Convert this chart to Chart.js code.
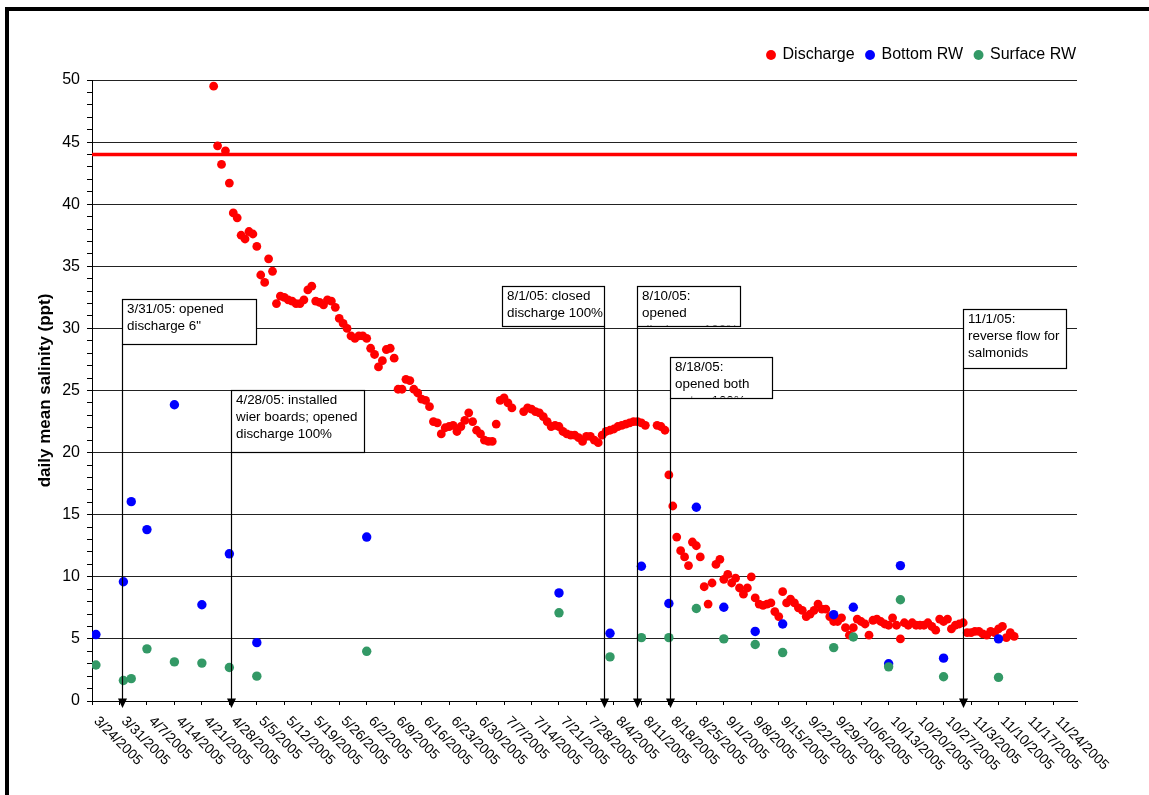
<!DOCTYPE html>
<html>
<head>
<meta charset="utf-8">
<script src="https://cdn.jsdelivr.net/npm/chart.js@4.4.1/dist/chart.umd.min.js"></script>
<style>
  html, body { margin: 0; padding: 0; background: #fff; overflow: hidden; }
  #frame { position: absolute; left: 5px; top: 7px; width: 1200px; height: 900px; border: 4px solid #000; }
  #myChart { position: absolute; left: 0; top: 0; }
</style>
</head>
<body>
<div id="frame"></div>
<canvas id="myChart" width="1149" height="795"></canvas>
<script>
// x axis runs from 3/24/2005 to 11/30/2005, weekly ticks
const axisStart = "3/24/2005";
const axisEnd = "11/30/2005";

// daily discharge salinity, one value per day starting 4/24/2005 (null = no reading)
const dischargeStart = "4/24/2005";
const dischargeValues = [
  49.5, 44.7, 43.2, 44.3, 41.7, 39.3, 38.9, 37.5, 37.2, 37.8,
  37.6, 36.6, 34.3, 33.7, 35.6, 34.6, 32.0, 32.6, 32.5, 32.3,
  32.2, 32.0, 32.0, 32.3, 33.1, 33.4, 32.2, 32.1, 31.9, 32.3,
  32.2, 31.7, 30.8, 30.4, 30.0, 29.4, 29.2, 29.4, 29.4, 29.2,
  28.4, 27.9, 26.9, 27.4, 28.3, 28.4, 27.6, 25.1, 25.1, 25.9,
  25.8, 25.1, 24.8, 24.3, 24.2, 23.7, 22.5, 22.4, 21.5, 22.0,
  22.1, 22.2, 21.7, 22.1, 22.6, 23.2, 22.5, 21.8, 21.5, 21.0,
  20.9, 20.9, 22.3, 24.2, 24.4, 24.0, 23.6, null, null, 23.3,
  23.6, 23.5, 23.3, 23.2, 22.9, 22.5, 22.1, 22.2, 22.1, 21.7,
  21.5, 21.4, 21.4, 21.2, 20.9, 21.3, 21.3, 21.0, 20.8, 21.4,
  21.7, 21.8, 21.9, 22.1, 22.2, 22.3, 22.4, 22.5, 22.5, 22.4,
  22.2, null, null, 22.2, 22.1, 21.8, 18.2, 15.7, 13.2, 12.1,
  11.6, 10.9, 12.8, 12.5, 11.6, 9.2, 7.8, 9.5, 11.0, 11.4,
  9.8, 10.2, 9.5, 9.9, 9.1, 8.6, 9.1, 10.0, 8.3, 7.8,
  7.7, 7.8, 7.9, 7.2, 6.8, 8.8, 7.9, 8.2, 7.9, 7.5,
  7.3, 6.8, 7.0, 7.3, 7.8, 7.4, 7.4, 6.8, 6.4, 6.4,
  6.7, 5.9, 5.3, 5.9, 6.6, 6.4, 6.2, 5.3, 6.5, 6.6,
  6.4, 6.2, 6.1, 6.7, 6.1, 5.0, 6.3, 6.1, 6.3, 6.1,
  6.1, 6.1, 6.3, 6.0, 5.7, 6.6, 6.4, 6.6, 5.8, 6.1,
  6.2, 6.3, 5.5, 5.5, 5.6, 5.6, 5.4, 5.3, 5.6, 5.5,
  5.8, 6.0, 5.1, 5.5, 5.2
];

// receiving water grab samples
const sampleDates = [
  "3/25/2005", "4/1/2005", "4/3/2005", "4/7/2005", "4/14/2005", "4/21/2005",
  "4/28/2005", "5/5/2005", "6/2/2005", "7/21/2005", "8/3/2005", "8/11/2005",
  "8/18/2005", "8/25/2005", "9/1/2005", "9/9/2005", "9/16/2005", "9/29/2005",
  "10/4/2005", "10/13/2005", "10/16/2005", "10/27/2005", "11/10/2005"
];
const bottomValues = [
  5.35, 9.6, 16.05, 13.8, 23.85, 7.75, 11.85, 4.7, 13.2, 8.7, 5.45, 10.85,
  7.85, 15.6, 7.55, 5.6, 6.2, 6.95, 7.55, 3.0, 10.9, 3.45, 5.0
];
const surfaceValues = [
  2.9, 1.65, 1.8, 4.2, 3.15, 3.05, 2.7, 2.0, 4.0, 7.1, 3.55, 5.1,
  5.1, 7.45, 5.0, 4.55, 3.9, 4.3, 5.15, 2.75, 8.15, 1.95, 1.9
];

const limitValue = 44;

// operational notes
const noteDates = ["3/31/2005", "4/28/2005", "8/1/2005", "8/10/2005", "8/18/2005", "11/1/2005"];
const noteTexts = [
  ["3/31/05: opened", "discharge 6\""],
  ["4/28/05: installed", "wier boards; opened", "discharge 100%"],
  ["8/1/05: closed", "discharge 100%"],
  ["8/10/05:", "opened", "discharge 100%"],
  ["8/18/05:", "opened both", "gates 100%"],
  ["11/1/05:", "reverse flow for", "salmonids"]
];

// box layout for the notes (top in axis units, size and nudge in pixels)
const noteBoxes = [
  { top: 32.4, w: 134, h: 45, side: "left", dx: 3 },
  { top: 25.05, w: 133, h: 62, side: "left", dx: 2 },
  { top: 33.45, w: 102, h: 40, side: "right", dx: 1.5 },
  { top: 33.45, w: 103, h: 40, side: "left", dx: 0 },
  { top: 27.7, w: 102, h: 41, side: "left", dx: 1.5 },
  { top: 31.6, w: 103, h: 59, side: "left", dx: 0 }
];

const FONT = '"Liberation Sans", Arial, Helvetica, sans-serif';
Chart.defaults.font.family = FONT;
Chart.defaults.color = "#000";

const t0 = parseDate(axisStart);
function parseDate(s) {
  const p = s.split("/").map(Number);
  return Date.UTC(p[2], p[0] - 1, p[1]);
}
function dayOf(s) {
  return Math.round((parseDate(s) - t0) / 86400000);
}
function dateLabel(v) {
  const dt = new Date(t0 + v * 86400000);
  return (dt.getUTCMonth() + 1) + "/" + dt.getUTCDate() + "/" + dt.getUTCFullYear();
}

const day0 = dayOf(dischargeStart);
const dischargePoints = dischargeValues
  .map((v, i) => ({ x: day0 + i, y: v }))
  .filter(p => p.y !== null);
const bottomPoints = sampleDates.map((d, i) => ({ x: dayOf(d), y: bottomValues[i] }));
const surfacePoints = sampleDates.map((d, i) => ({ x: dayOf(d), y: surfaceValues[i] }));
const lastDay = dayOf(axisEnd);

// leave some room between the legend row and the plot
const legendGap = {
  id: "legendGap",
  beforeUpdate(chart) {
    const legend = chart.legend;
    if (!legend || legend._gapPatched) return;
    const fit = legend.fit;
    legend.fit = function () {
      fit.call(this);
      this.height += 7;
    };
    legend._gapPatched = true;
  }
};

const noteLayer = {
  id: "noteLayer",
  afterDraw(chart) {
    const { ctx, chartArea, scales: { x, y } } = chart;
    const base = chartArea.bottom;

    // rotated date labels under the axis
    ctx.save();
    ctx.font = "14px " + FONT;
    ctx.fillStyle = "#000";
    ctx.textAlign = "left";
    ctx.textBaseline = "top";
    x.ticks.forEach(t => {
      const px = x.getPixelForValue(t.value);
      ctx.save();
      ctx.translate(px + 9, base + 13);
      ctx.rotate(Math.PI / 4);
      ctx.fillText(dateLabel(t.value), 0, 0);
      ctx.restore();
    });
    ctx.restore();

    // note boxes with arrows down to the axis
    ctx.save();
    ctx.font = "13.4px " + FONT;
    noteDates.forEach((d, i) => {
      const b = noteBoxes[i];
      const ax = Math.round(x.getPixelForValue(dayOf(d)) + b.dx) + 0.5;
      const top = Math.round(y.getPixelForValue(b.top)) + 0.5;
      const left = b.side === "right" ? ax - b.w : ax;

      ctx.strokeStyle = "#000";
      ctx.fillStyle = "#000";
      ctx.lineWidth = 1.2;
      ctx.beginPath();
      ctx.moveTo(ax, top + b.h);
      ctx.lineTo(ax, base - 2);
      ctx.stroke();
      ctx.beginPath();
      ctx.moveTo(ax - 4.5, base - 2.5);
      ctx.lineTo(ax + 4.5, base - 2.5);
      ctx.lineTo(ax, base + 7);
      ctx.closePath();
      ctx.fill();

      ctx.fillStyle = "#fff";
      ctx.fillRect(left, top, b.w, b.h);
      ctx.strokeRect(left, top, b.w, b.h);

      ctx.save();
      ctx.beginPath();
      ctx.rect(left + 1, top + 1, b.w - 2, b.h - 2);
      ctx.clip();
      ctx.fillStyle = "#000";
      ctx.textAlign = "left";
      ctx.textBaseline = "middle";
      noteTexts[i].forEach((line, k) => {
        ctx.fillText(line, left + 4.5, top + 9.5 + k * 17.4);
      });
      ctx.restore();
    });
    ctx.restore();
  }
};

new Chart(document.getElementById("myChart"), {
  type: "scatter",
  data: {
    datasets: [
      {
        label: "Discharge",
        data: dischargePoints,
        backgroundColor: "#ff0000",
        pointRadius: 4.4,
        pointBorderWidth: 0,
        order: 3,
      },
      {
        label: "Bottom RW",
        data: bottomPoints,
        backgroundColor: "#0000ff",
        pointRadius: 4.7,
        pointBorderWidth: 0,
        order: 2,
      },
      {
        label: "Surface RW",
        data: surfacePoints,
        backgroundColor: "#339966",
        pointRadius: 4.7,
        pointBorderWidth: 0,
        order: 1,
      },
      {
        type: "line",
        label: "limit",
        data: [{ x: 0, y: limitValue }, { x: lastDay, y: limitValue }],
        borderColor: "#ff0000",
        borderWidth: 3.5,
        pointRadius: 0,
        order: 4,
      },
    ],
  },
  options: {
    responsive: false,
    animation: false,
    devicePixelRatio: 1,
    layout: { padding: { top: 35, right: 61, bottom: 0, left: 0 } },
    plugins: {
      legend: {
        position: "top",
        align: "end",
        labels: {
          usePointStyle: true,
          pointStyle: "circle",
          boxWidth: 7,
          boxHeight: 7,
          padding: 12,
          color: "#000",
          font: { size: 16 },
          filter: item => item.datasetIndex < 3,
          sort: (a, b) => a.datasetIndex - b.datasetIndex,
        },
      },
      tooltip: { enabled: false },
    },
    scales: {
      x: {
        type: "linear",
        min: 0,
        max: lastDay,
        afterBuildTicks: s => {
          s.ticks = s.ticks.filter(t => t.value % 7 === 0);
        },
        afterFit: s => {
          s.height = 94;
          s.paddingLeft = 0;
          s.paddingRight = 72;
        },
        ticks: { stepSize: 7, includeBounds: false, display: false },
        grid: { drawOnChartArea: false, drawTicks: true, tickLength: 4, color: "#000" },
        border: { color: "#000", width: 1 },
      },
      y: {
        min: 0,
        max: 50,
        afterFit: s => {
          s.width = 92;
          s.paddingTop = 80;
        },
        ticks: {
          stepSize: 1,
          autoSkip: false,
          padding: 7,
          color: "#000",
          font: { size: 16 },
          callback: v => (v % 5 === 0 ? v : ""),
        },
        grid: {
          color: c => (c.tick && c.tick.value % 5 === 0 ? "#222" : "rgba(0,0,0,0)"),
          tickColor: "#000",
          tickLength: 5,
        },
        border: { color: "#000", width: 1 },
        title: {
          display: true,
          text: "daily mean salinity (ppt)",
          color: "#000",
          font: { size: 17, weight: "bold" },
          padding: { top: 35, bottom: 0 },
        },
      },
    },
  },
  plugins: [legendGap, noteLayer],
});
</script>
</body>
</html>
